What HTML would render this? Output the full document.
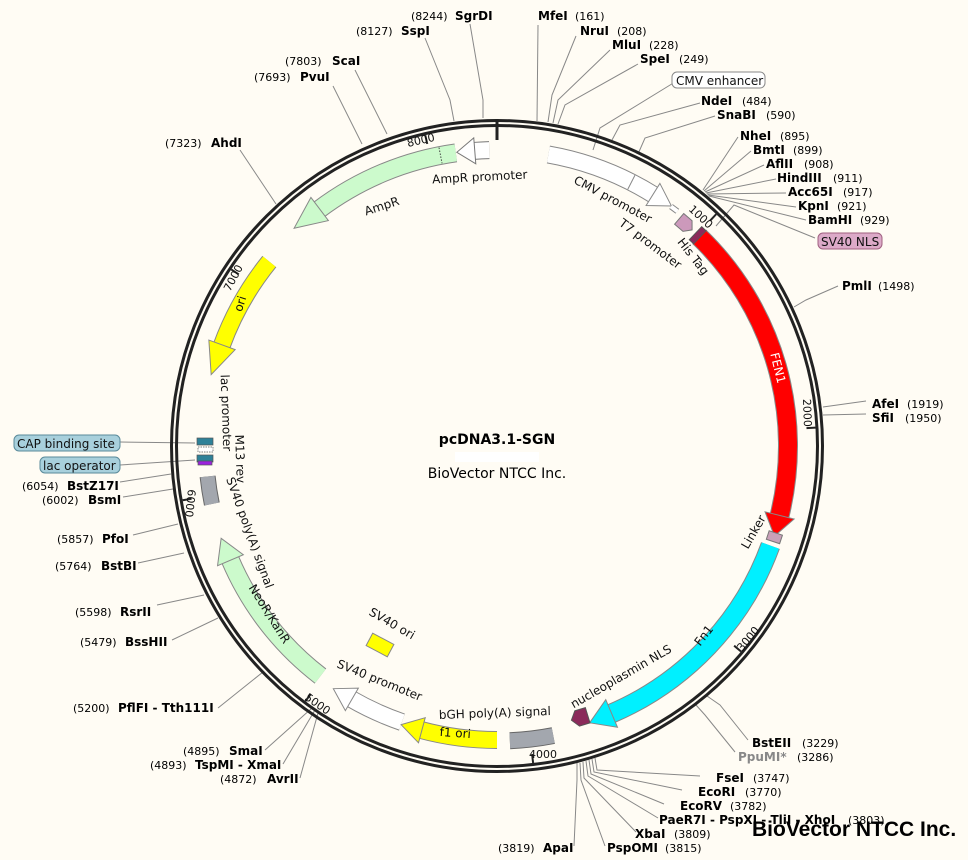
<!DOCTYPE html>
<html><head><meta charset="utf-8"><style>
html,body{margin:0;padding:0;background:#fffcf4;}
svg{display:block;}
text{font-family:"DejaVu Sans","Liberation Sans",sans-serif;}
.b{font-weight:bold;font-size:12px;fill:#000;}
.n{font-size:11px;fill:#000;}
.f{font-size:12px;fill:#111;}
.l{stroke:#888;stroke-width:1;fill:none;}
</style></head><body>
<svg width="968" height="860" viewBox="0 0 968 860" xmlns="http://www.w3.org/2000/svg">
<rect width="968" height="860" fill="#fffcf4"/>

<g class="l">
<polyline points="483,118 483,100 470,24"/>
<polyline points="454,121 450,100 425,38"/>
<polyline points="537,121 538,25"/>
<polyline points="548,122 552,95 576,36"/>
<polyline points="553,123 558,100 610,50"/>
<polyline points="558,124 565,105 638,64"/>
<polyline points="593,150 600,128 675,82"/>
<polyline points="612,140 620,125 700,103"/>
<polyline points="638,154 645,138 715,116"/>
<polyline points="703,190 738,137"/>
<polyline points="704,191 751,151"/>
<polyline points="705,192 764,165"/>
<polyline points="706,193 776,179"/>
<polyline points="707,194 786,193"/>
<polyline points="708,195 796,207"/>
<polyline points="709,196 806,220"/>
<polyline points="716,226 734,205 815,238"/>
<polyline points="794,307 806,300 838,286"/>
<polyline points="823,407 866,401"/>
<polyline points="823,415 866,414"/>
<polyline points="707,696 720,705 748,740"/>
<polyline points="696,705 705,715 735,752"/>
<polyline points="595,758 597,770 700,776"/>
<polyline points="592,759 594,772 682,790"/>
<polyline points="589,760 591,774 664,804"/>
<polyline points="586,761 588,776 658,818"/>
<polyline points="583,762 584,778 636,832"/>
<polyline points="580,763 581,780 605,846"/>
<polyline points="577,763 577,780 574,846"/>
<polyline points="318,713 300,778"/>
<polyline points="315,710 283,764"/>
<polyline points="312,708 265,750"/>
<polyline points="263,672 218,708"/>
<polyline points="218,618 172,640"/>
<polyline points="204,595 157,605"/>
<polyline points="184,553 138,563"/>
<polyline points="178,524 133,535"/>
<polyline points="173,489 123,497"/>
<polyline points="171,474 120,482"/>
<polyline points="120,465 195,460"/>
<polyline points="120,442 195,443"/>
<polyline points="276,204 240,150"/>
<polyline points="362,144 333,86"/>
<polyline points="387,134 355,70"/>
</g>

<circle cx="497" cy="446" r="325.5" fill="none" stroke="#222" stroke-width="3"/>
<circle cx="497" cy="446" r="320.5" fill="none" stroke="#222" stroke-width="3"/>
<line x1="497" y1="119" x2="497" y2="140" stroke="#222" stroke-width="3"/>

<g stroke="#222" stroke-width="2">
<line x1="497" y1="127" x2="497" y2="136" transform="rotate(43.4 497 446)"/>
<line x1="497" y1="127" x2="497" y2="136" transform="rotate(86.7 497 446)"/>
<line x1="497" y1="127" x2="497" y2="136" transform="rotate(130.1 497 446)"/>
<line x1="497" y1="127" x2="497" y2="136" transform="rotate(173.5 497 446)"/>
<line x1="497" y1="127" x2="497" y2="136" transform="rotate(216.9 497 446)"/>
<line x1="497" y1="127" x2="497" y2="136" transform="rotate(260.2 497 446)"/>
<line x1="497" y1="127" x2="497" y2="136" transform="rotate(303.6 497 446)"/>
<line x1="497" y1="127" x2="497" y2="136" transform="rotate(347 497 446)"/>
</g>

<circle cx="497" cy="446" r="296" fill="none" stroke="#888" stroke-width="18" stroke-dasharray="113.6 3000" transform="rotate(-80 497 446)"/>
<circle cx="497" cy="446" r="296" fill="none" stroke="#fff" stroke-width="16" stroke-dasharray="113.6 3000" transform="rotate(-80 497 446)"/>
<polygon points="496,137 517.7,150 496,163" fill="#fff" stroke="#888" transform="rotate(32 497 446)"/>
<line x1="497" y1="142" x2="497" y2="158" stroke="#888" transform="rotate(27 497 446)"/>
<circle cx="497" cy="446" r="296" fill="none" stroke="#888" stroke-width="6" stroke-dasharray="8 3000" transform="rotate(-54 497 446)"/>
<circle cx="497" cy="446" r="296" fill="none" stroke="#fff" stroke-width="4" stroke-dasharray="8 3000" transform="rotate(-54 497 446)"/>
<circle cx="497" cy="446" r="296" fill="none" stroke="#777" stroke-width="18" stroke-dasharray="15.5 3000" transform="rotate(265.5 497 446)"/>
<circle cx="497" cy="446" r="296" fill="none" stroke="#fff" stroke-width="16" stroke-dasharray="15.5 3000" transform="rotate(265.5 497 446)"/>
<polygon points="498,137 480,150 498,163" fill="#fff" stroke="#777" transform="rotate(355.5 497 446)"/>
<circle cx="497" cy="446" r="296" fill="none" stroke="#888" stroke-width="19" stroke-dasharray="149.8 3000" transform="rotate(233 497 446)"/>
<circle cx="497" cy="446" r="296" fill="none" stroke="#ccfacc" stroke-width="17" stroke-dasharray="149.8 3000" transform="rotate(233 497 446)"/>
<polygon points="498,135.5 466,150 498,164.5" fill="#ccfacc" stroke="#888" transform="rotate(323 497 446)"/>
<line x1="497" y1="142" x2="497" y2="158" stroke="#444" stroke-dasharray="1.5 1.5" transform="rotate(349 497 446)"/>
<circle cx="497" cy="446" r="293" fill="none" stroke="#888" stroke-width="18" stroke-dasharray="97.2 3000" transform="rotate(200 497 446)"/>
<circle cx="497" cy="446" r="293" fill="none" stroke="#ffff00" stroke-width="16" stroke-dasharray="97.2 3000" transform="rotate(200 497 446)"/>
<polygon points="498,139 466.3,153 498,167" fill="#ffff00" stroke="#888" transform="rotate(290 497 446)"/>
<circle cx="497" cy="446" r="290" fill="none" stroke="#888" stroke-width="19" stroke-dasharray="149.3 3000" transform="rotate(127.5 497 446)"/>
<circle cx="497" cy="446" r="290" fill="none" stroke="#ccfacc" stroke-width="17" stroke-dasharray="149.3 3000" transform="rotate(127.5 497 446)"/>
<polygon points="496,142 519.8,156 496,170" fill="#ccfacc" stroke="#888" transform="rotate(247 497 446)"/>
<circle cx="497" cy="446" r="291" fill="none" stroke="#666" stroke-width="16" stroke-dasharray="27.9 3000" transform="rotate(168.5 497 446)"/>
<circle cx="497" cy="446" r="291" fill="none" stroke="#a3a7ae" stroke-width="14" stroke-dasharray="27.9 3000" transform="rotate(168.5 497 446)"/>
<circle cx="497" cy="446" r="292" fill="none" stroke="#888" stroke-width="18" stroke-dasharray="56.1 3000" transform="rotate(109 497 446)"/>
<circle cx="497" cy="446" r="292" fill="none" stroke="#fff" stroke-width="16" stroke-dasharray="56.1 3000" transform="rotate(109 497 446)"/>
<polygon points="496,141 517.4,154 496,167" fill="#fff" stroke="#888" transform="rotate(210 497 446)"/>
<circle cx="497" cy="446" r="294" fill="none" stroke="#888" stroke-width="18" stroke-dasharray="77 3000" transform="rotate(90 497 446)"/>
<circle cx="497" cy="446" r="294" fill="none" stroke="#ffff00" stroke-width="16" stroke-dasharray="77 3000" transform="rotate(90 497 446)"/>
<polygon points="496,139 517.5,152 496,165" fill="#ffff00" stroke="#888" transform="rotate(195 497 446)"/>
<circle cx="497" cy="446" r="295" fill="none" stroke="#666" stroke-width="17" stroke-dasharray="43.8 3000" transform="rotate(79 497 446)"/>
<circle cx="497" cy="446" r="295" fill="none" stroke="#a3a7ae" stroke-width="15" stroke-dasharray="43.8 3000" transform="rotate(79 497 446)"/>
<circle cx="497" cy="446" r="291" fill="none" stroke="#888" stroke-width="20" stroke-dasharray="238.7 3000" transform="rotate(20 497 446)"/>
<circle cx="497" cy="446" r="291" fill="none" stroke="#00f0ff" stroke-width="18" stroke-dasharray="238.7 3000" transform="rotate(20 497 446)"/>
<polygon points="496,140 519.9,155 496,170" fill="#00f0ff" stroke="#888" transform="rotate(157 497 446)"/>
<polygon points="489,154 500,154 506,162 500,170 489,170" fill="#8b2a5a" stroke="#555" transform="rotate(163 497 446)"/>
<circle cx="497" cy="446" r="291" fill="none" stroke="#888" stroke-width="20" stroke-dasharray="304.7 3000" transform="rotate(-46 497 446)"/>
<circle cx="497" cy="446" r="291" fill="none" stroke="#ff0000" stroke-width="18" stroke-dasharray="304.7 3000" transform="rotate(-46 497 446)"/>
<polygon points="496,140 517.3,155 496,170" fill="#ff0000" stroke="#888" transform="rotate(104 497 446)"/>
<rect x="492" y="147" width="9" height="14" fill="#c9a0b8" stroke="#777" transform="rotate(108.3 497 446)"/>
<polygon points="488,148 499,148 505,155 499,162 488,162" fill="#cc99bb" stroke="#777" transform="rotate(40.5 497 446)"/>
<rect x="494" y="146" width="6" height="18" fill="#8b2a5a" stroke="#555" transform="rotate(43.6 497 446)"/>
<rect x="197" y="438" width="16" height="7" fill="#2e8198" stroke="#555" stroke-width="0.7"/>
<rect x="198" y="447" width="15" height="5" fill="#fff" stroke="#555" stroke-width="0.7" stroke-dasharray="1.5 1"/>
<rect x="197" y="455" width="16" height="7" fill="#2e8198" stroke="#555" stroke-width="0.7"/>
<rect x="198" y="461" width="14" height="4" fill="#9a22dd" stroke="#555" stroke-width="0.7"/>
<rect x="368" y="638" width="24" height="14" fill="#ffff00" stroke="#888" transform="rotate(28 380 645)"/>

<g class="f">
<text x="688" y="210" transform="rotate(43 688 210)" font-size="11">1000</text>
<text x="803" y="399" transform="rotate(88 803 399)" font-size="11">2000</text>
<text x="742" y="652" transform="rotate(-50 742 652)" font-size="11">3000</text>
<text x="529" y="758" font-size="11">4000</text>
<text x="304" y="699" transform="rotate(35 304 699)" font-size="11">5000</text>
<text x="188" y="489" transform="rotate(96 188 489)" font-size="11">6000</text>
<text x="230" y="292" transform="rotate(-62 230 292)" font-size="11">7000</text>
<text x="408" y="147" transform="rotate(-13 408 147)" font-size="11">8000</text>
</g>

<g class="f">
<text x="480" y="181" text-anchor="middle" transform="rotate(-3 480 181)">AmpR promoter</text>
<text x="383" y="210" text-anchor="middle" transform="rotate(-18 383 210)">AmpR</text>
<text x="611" y="203" text-anchor="middle" transform="rotate(28 611 203)">CMV promoter</text>
<text x="648" y="247" text-anchor="middle" transform="rotate(37 648 247)">T7 promoter</text>
<text x="690" y="259" text-anchor="middle" transform="rotate(52 690 259)">His Tag</text>
<text x="774" y="369" text-anchor="middle" transform="rotate(76 774 369)" style="fill:#fff">FEN1</text>
<text x="757" y="534" text-anchor="middle" transform="rotate(-60 757 534)">Linker</text>
<text x="707" y="638" text-anchor="middle" transform="rotate(-52 707 638)">Fn1</text>
<text x="623" y="680" text-anchor="middle" transform="rotate(-30 623 680)">nucleoplasmin NLS</text>
<text x="495" y="717" text-anchor="middle" transform="rotate(-2 495 717)">bGH poly(A) signal</text>
<text x="455" y="737" text-anchor="middle" transform="rotate(4 455 737)">f1 ori</text>
<text x="378" y="684" text-anchor="middle" transform="rotate(22 378 684)">SV40 promoter</text>
<text x="390" y="627" text-anchor="middle" transform="rotate(30 390 627)">SV40 ori</text>
<text x="266" y="616" text-anchor="middle" transform="rotate(58 266 616)">NeoR/KanR</text>
<text x="246" y="534" text-anchor="middle" transform="rotate(70 246 534)">SV40 poly(A) signal</text>
<text x="236" y="459" text-anchor="middle" transform="rotate(88 236 459)">M13 rev</text>
<text x="222" y="413" text-anchor="middle" transform="rotate(88 222 413)">lac promoter</text>
<text x="244" y="305" text-anchor="middle" transform="rotate(-72 244 305)">ori</text>
</g>

<rect x="672" y="72" width="93" height="16" rx="5" fill="#fff" stroke="#888"/>
<text x="676" y="85" class="f">CMV enhancer</text>
<rect x="818" y="233" width="64" height="16" rx="5" fill="#dcaac8" stroke="#a06080"/>
<text x="821" y="246" class="f">SV40 NLS</text>
<rect x="14" y="435" width="106" height="16" rx="5" fill="#a8d0dc" stroke="#5a8a9a"/>
<text x="17" y="448" class="f">CAP binding site</text>
<rect x="40" y="457" width="80" height="16" rx="5" fill="#a8d0dc" stroke="#5a8a9a"/>
<text x="43" y="470" class="f">lac operator</text>

<g>
<text x="411" y="20" class="n">(8244)</text><text x="455" y="20" class="b">SgrDI</text>
<text x="356" y="35" class="n">(8127)</text><text x="401" y="35" class="b">SspI</text>
<text x="538" y="20" class="b">MfeI</text><text x="575" y="20" class="n">(161)</text>
<text x="580" y="35" class="b">NruI</text><text x="617" y="35" class="n">(208)</text>
<text x="612" y="49" class="b">MluI</text><text x="649" y="49" class="n">(228)</text>
<text x="640" y="63" class="b">SpeI</text><text x="679" y="63" class="n">(249)</text>
<text x="701" y="105" class="b">NdeI</text><text x="742" y="105" class="n">(484)</text>
<text x="717" y="119" class="b">SnaBI</text><text x="766" y="119" class="n">(590)</text>
<text x="740" y="140" class="b">NheI</text><text x="780" y="140" class="n">(895)</text>
<text x="753" y="154" class="b">BmtI</text><text x="793" y="154" class="n">(899)</text>
<text x="766" y="168" class="b">AflII</text><text x="804" y="168" class="n">(908)</text>
<text x="777" y="182" class="b">HindIII</text><text x="833" y="182" class="n">(911)</text>
<text x="788" y="196" class="b">Acc65I</text><text x="843" y="196" class="n">(917)</text>
<text x="798" y="210" class="b">KpnI</text><text x="837" y="210" class="n">(921)</text>
<text x="808" y="224" class="b">BamHI</text><text x="860" y="224" class="n">(929)</text>
<text x="842" y="290" class="b">PmlI</text><text x="878" y="290" class="n">(1498)</text>
<text x="872" y="408" class="b">AfeI</text><text x="907" y="408" class="n">(1919)</text>
<text x="872" y="422" class="b">SfiI</text><text x="905" y="422" class="n">(1950)</text>
<text x="752" y="747" class="b">BstEII</text><text x="802" y="747" class="n">(3229)</text>
<text x="738" y="761" class="b" style="fill:#888">PpuMI*</text><text x="797" y="761" class="n">(3286)</text>
<text x="716" y="782" class="b">FseI</text><text x="753" y="782" class="n">(3747)</text>
<text x="698" y="796" class="b">EcoRI</text><text x="745" y="796" class="n">(3770)</text>
<text x="680" y="810" class="b">EcoRV</text><text x="730" y="810" class="n">(3782)</text>
<text x="659" y="824" class="b">PaeR7I - PspXI - TliI - XhoI</text><text x="848" y="824" class="n">(3803)</text>
<text x="635" y="838" class="b">XbaI</text><text x="674" y="838" class="n">(3809)</text>
<text x="607" y="852" class="b">PspOMI</text><text x="665" y="852" class="n">(3815)</text>
<text x="498" y="852" class="n">(3819)</text><text x="543" y="852" class="b">ApaI</text>
<text x="220" y="783" class="n">(4872)</text><text x="267" y="783" class="b">AvrII</text>
<text x="150" y="769" class="n">(4893)</text><text x="195" y="769" class="b">TspMI - XmaI</text>
<text x="183" y="755" class="n">(4895)</text><text x="229" y="755" class="b">SmaI</text>
<text x="73" y="712" class="n">(5200)</text><text x="118" y="712" class="b">PflFI - Tth111I</text>
<text x="80" y="646" class="n">(5479)</text><text x="125" y="646" class="b">BssHII</text>
<text x="75" y="616" class="n">(5598)</text><text x="120" y="616" class="b">RsrII</text>
<text x="55" y="570" class="n">(5764)</text><text x="101" y="570" class="b">BstBI</text>
<text x="57" y="543" class="n">(5857)</text><text x="102" y="543" class="b">PfoI</text>
<text x="42" y="504" class="n">(6002)</text><text x="88" y="504" class="b">BsmI</text>
<text x="22" y="490" class="n">(6054)</text><text x="67" y="490" class="b">BstZ17I</text>
<text x="165" y="147" class="n">(7323)</text><text x="211" y="147" class="b">AhdI</text>
<text x="254" y="81" class="n">(7693)</text><text x="300" y="81" class="b">PvuI</text>
<text x="285" y="65" class="n">(7803)</text><text x="332" y="65" class="b">ScaI</text>
</g>

<text x="497" y="444" text-anchor="middle" font-weight="bold" font-size="14">pcDNA3.1-SGN</text>
<rect x="455" y="452" width="84" height="10" fill="#fff"/>
<text x="497" y="478" text-anchor="middle" font-size="14">BioVector NTCC Inc.</text>

<text x="752" y="836" font-weight="bold" font-size="21" fill="#000" style="font-family:'Liberation Sans',sans-serif">BioVector NTCC Inc.</text>
</svg>
</body></html>
